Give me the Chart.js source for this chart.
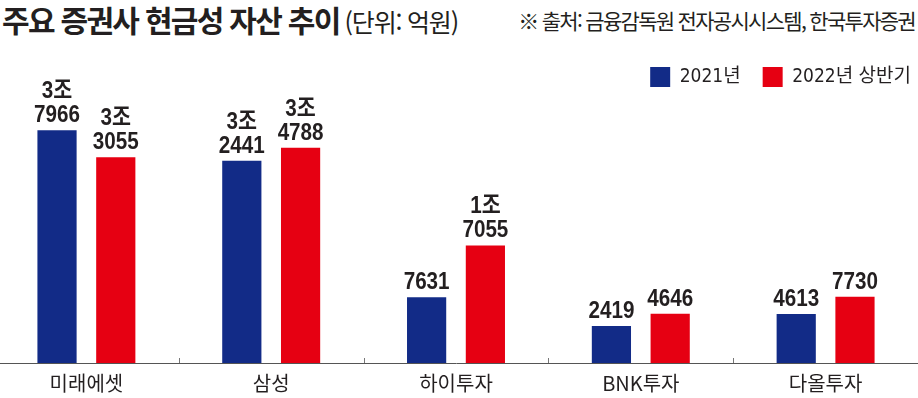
<!DOCTYPE html>
<html lang="ko">
<head>
<meta charset="utf-8">
<script src="https://cdn.jsdelivr.net/npm/chart.js@4"></script>
<style>
  html, body { margin: 0; padding: 0; background: #fff; }
  #wrap { position: relative; width: 918px; height: 398px; overflow: hidden; background: #fff; }
  #title { position: absolute; left: 2px; top: -3px; white-space: nowrap; color: #231f20;
           font-family: 'Noto Sans CJK KR', sans-serif; }
  #title .main { font-size: 30px; font-weight: 700; letter-spacing: -1.7px; }
  #title .unit { font-size: 25px; font-weight: 400; letter-spacing: -1.2px; margin-left: 5px; }
  #source { position: absolute; right: 3px; top: 5px; white-space: nowrap; color: #231f20;
            font-family: 'Noto Sans CJK KR', sans-serif; font-size: 21px; letter-spacing: -1.7px; }
  #cv { position: absolute; left: -6px; top: 0; width: 924px; height: 403px; }
</style>
</head>
<body>
<div id="wrap">
  <div id="title"><span class="main">주요 증권사 현금성 자산 추이</span><span class="unit">(단위: 억원)</span></div>
  <div id="source">※ 출처: 금융감독원 전자공시시스템, 한국투자증권</div>
  <div id="cv"><canvas id="chart"></canvas></div>
</div>
<script>
// ---- data (단위: 억원) ----
const categories = ['미래에셋', '삼성', '하이투자', 'BNK투자', '다올투자'];
const values2021 = [37966, 32441, 7631, 2419, 4613];
const values2022H1 = [33055, 34788, 17055, 4646, 7730];
const seriesNames = ['2021년', '2022년 상반기'];

// ---- style ----
const BLUE = '#122b87';
const RED = '#e60012';
const INK = '#231f20';
const NUM_FONT = "'Liberation Sans', 'Noto Sans CJK KR', sans-serif";
const LEG_FONT = "'DejaVu Sans Condensed', 'Noto Sans CJK KR', sans-serif";
const KR_FONT = "'Noto Sans CJK KR', sans-serif";
const Y_MIN = -4300;
const Y_MAX = 44000;
const LEGEND_GAP = 22;

function labelLines(v) {
  if (v >= 10000) {
    return [Math.floor(v / 10000) + '조', String(v % 10000).padStart(4, '0')];
  }
  return [String(v)];
}

const valueLabels = {
  id: 'valueLabels',
  afterDatasetsDraw(chart) {
    const ctx = chart.ctx;
    const sx = 0.86;
    ctx.save();
    ctx.fillStyle = INK;
    ctx.textAlign = 'center';
    ctx.textBaseline = 'alphabetic';
    ctx.font = 'bold 24px ' + NUM_FONT;
    chart.data.datasets.forEach((ds, di) => {
      const meta = chart.getDatasetMeta(di);
      meta.data.forEach((bar, i) => {
        const lines = labelLines(ds.data[i]);
        let y = bar.y - 8;
        for (let k = lines.length - 1; k >= 0; k--) {
          ctx.save();
          ctx.translate(bar.x, y);
          ctx.scale(sx, 1);
          ctx.fillText(lines[k], 0, 0);
          ctx.restore();
          y -= 24;
        }
      });
    });
    ctx.restore();
  }
};

const innerTicks = {
  id: 'innerTicks',
  afterDraw(chart) {
    const xs = chart.scales.x;
    const ctx = chart.ctx;
    const bottom = chart.chartArea.bottom;
    ctx.save();
    ctx.strokeStyle = '#777';
    ctx.lineWidth = 1;
    for (let i = 0; i < categories.length - 1; i++) {
      const px = Math.round((xs.getPixelForValue(i) + xs.getPixelForValue(i + 1)) / 2) + 0.5;
      ctx.beginPath();
      ctx.moveTo(px, bottom);
      ctx.lineTo(px, bottom - 5);
      ctx.stroke();
    }
    ctx.restore();
  }
};

// push the legend row flush to the right (drop the trailing item gap)
const legendFlush = {
  id: 'legendFlush',
  afterLayout(chart) {
    const shift = LEGEND_GAP - 7;
    chart.legend.left += shift;
    chart.legend.right += shift;
  }
};

new Chart(document.getElementById('chart'), {
  type: 'bar',
  data: {
    labels: categories,
    datasets: [
      { label: seriesNames[0], data: values2021, backgroundColor: BLUE, base: Y_MIN },
      { label: seriesNames[1], data: values2022H1, backgroundColor: RED, base: Y_MIN }
    ]
  },
  options: {
    responsive: true,
    maintainAspectRatio: false,
    animation: false,
    devicePixelRatio: 1,
    categoryPercentage: 0.636,
    barPercentage: 0.667,
    layout: { padding: { top: 45, bottom: 0, left: 0, right: 0 } },
    plugins: {
      legend: {
        display: true,
        position: 'top',
        align: 'end',
        labels: {
          boxWidth: 20,
          boxHeight: 20,
          padding: LEGEND_GAP,
          color: INK,
          font: { family: LEG_FONT, size: 19 }
        }
      },
      title: { display: false },
      tooltip: { enabled: false }
    },
    scales: {
      x: {
        grid: { display: false, drawTicks: false },
        border: { display: true, color: '#555', width: 1 },
        ticks: { color: '#231f20', padding: 8, font: { family: KR_FONT, size: 20 } }
      },
      y: {
        display: false,
        min: Y_MIN,
        max: Y_MAX
      }
    }
  },
  plugins: [valueLabels, innerTicks, legendFlush]
});
</script>
</body>
</html>
